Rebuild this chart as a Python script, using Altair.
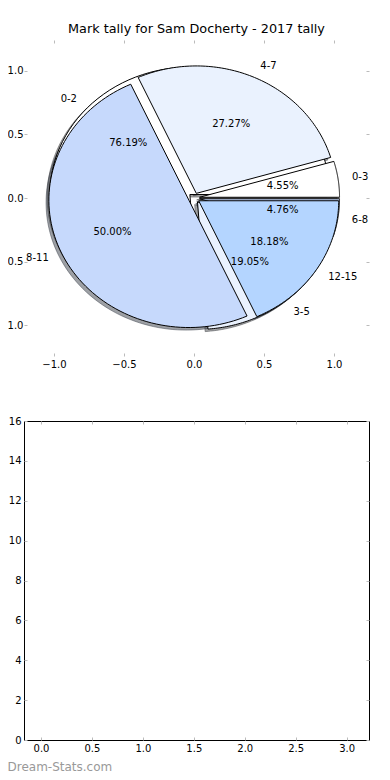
import altair as alt
import pandas as pd

TITLE = "Mark tally for Sam Docherty - 2017 tally"
WATERMARK = "Dream-Stats.com"

# 2017 tally, drawn on top
labels_a = ["0-3", "4-7", "8-11", "12-15"]
counts_a = [1, 6, 11, 4]
# second tally, drawn underneath
labels_b = ["0-2", "3-5", "6-8"]
counts_b = [16, 4, 1]

wedge_colors = ["#ffffff", "#eaf2fe", "#c6d9fc", "#b4d5ff"]

pie_ticks = [-1.0, -0.5, 0.0, 0.5, 1.0]
bar_x_ticks = [0.0, 0.5, 1.0, 1.5, 2.0, 2.5, 3.0]
bar_y_ticks = [0, 2, 4, 6, 8, 10, 12, 14, 16]

EXPLODE = 0.04
SHADOW_OFFSET = -0.02
LABEL_DIST = 1.1
PCT_DIST = 0.6
STEPS = 90
FONT = "DejaVu Sans"
TICK_GREY = "#bbbbbb"


def shadow_of(hexcolor):
    r, g, b = (int(hexcolor[i:i + 2], 16) for i in (1, 3, 5))
    return "#%02x%02x%02x" % (int(0.3 * r), int(0.3 * g), int(0.3 * b))


rows = []
for layer, (pie, labels, counts) in enumerate(
    [("B", labels_b, counts_b), ("A", labels_a, counts_a)]
):
    for i, (lab, cnt) in enumerate(zip(labels, counts)):
        rows.append({
            "pie": pie, "layer": layer, "idx": i, "label": lab, "count": cnt,
            "color": wedge_colors[i], "shade": shadow_of(wedge_colors[i]),
        })
wedges = pd.DataFrame(rows)

xs = alt.Scale(domain=[-1.214, 1.25], nice=False, zero=False)
ys = alt.Scale(domain=[-1.24, 1.24], nice=False, zero=False)


def axis(orient, values, fmt, labels, pad, title=None, **kw):
    return alt.Axis(
        orient=orient, values=values, format=fmt, labels=labels, domain=False,
        grid=False, ticks=True, tickSize=3, tickColor=TICK_GREY, tickWidth=1,
        offset=-3, labelPadding=pad, labelFont=FONT, labelFontSize=10,
        labelColor="black", labelFlush=False, title=title, **kw,
    )


base = alt.Chart(wedges).transform_joinaggregate(
    total="sum(count)", groupby=["pie"]
).transform_window(
    cum="sum(count)", groupby=["pie"], sort=[alt.SortField("idx")], frame=[None, 0]
).transform_calculate(
    a0="2*PI*(datum.cum - datum.count)/datum.total",
    a1="2*PI*datum.cum/datum.total",
    am="(datum.a0 + datum.a1)/2",
    key="datum.pie + '|' + datum.label",
    cx=f"{EXPLODE}*cos(datum.am)",
    cy=f"{EXPLODE}*sin(datum.am)",
)

poly = base.transform_calculate(
    step=f"sequence(-1, {STEPS + 2})"
).transform_flatten(["step"]).transform_calculate(
    on=f"datum.step >= 0 && datum.step <= {STEPS} ? 1 : 0",
    t=f"datum.a0 + (datum.a1 - datum.a0) * clamp(datum.step, 0, {STEPS}) / {STEPS}",
    px="datum.cx + datum.on*cos(datum.t)",
    py="datum.cy + datum.on*sin(datum.t)",
    sx=f"datum.px + ({SHADOW_OFFSET})",
    sy=f"datum.py + ({SHADOW_OFFSET})",
)

shadows = poly.mark_line(strokeWidth=1, fillOpacity=0.5, strokeOpacity=0.5).encode(
    x=alt.X("sx:Q", scale=xs, axis=axis("bottom", pie_ticks, ".1f", True, 3)),
    y=alt.Y("sy:Q", scale=ys, axis=axis("left", pie_ticks, ".1f", True, 1)),
    detail="key:N",
    order="step:Q",
    fill=alt.Fill("shade:N", scale=None),
    stroke=alt.Stroke("shade:N", scale=None),
)

pie_b = poly.transform_filter("datum.layer == 0").mark_line(
    strokeWidth=1, stroke="black", strokeJoin="miter"
).encode(
    x=alt.X("px:Q", scale=xs, axis=axis("top", pie_ticks, ".1f", False, 3)),
    y=alt.Y("py:Q", scale=ys, axis=axis("right", pie_ticks, ".1f", False, 4)),
    detail="key:N",
    order="step:Q",
    fill=alt.Fill("color:N", scale=None),
)

pie_a = poly.transform_filter("datum.layer == 1").mark_line(
    strokeWidth=1, stroke="black", strokeJoin="miter"
).encode(
    x=alt.X("px:Q", scale=xs, axis=None),
    y=alt.Y("py:Q", scale=ys, axis=None),
    detail="key:N",
    order="step:Q",
    fill=alt.Fill("color:N", scale=None),
)

lab = base.transform_calculate(
    lx=f"{EXPLODE + LABEL_DIST}*cos(datum.am)",
    ly=f"{EXPLODE + LABEL_DIST}*sin(datum.am)",
)
text_kw = dict(font=FONT, fontSize=10, color="black", baseline="middle")
lab_right = lab.transform_filter("datum.lx > 0").mark_text(align="left", **text_kw).encode(
    x=alt.X("lx:Q", scale=xs, axis=None), y=alt.Y("ly:Q", scale=ys, axis=None), text="label:N"
)
lab_left = lab.transform_filter("datum.lx <= 0").mark_text(align="right", **text_kw).encode(
    x=alt.X("lx:Q", scale=xs, axis=None), y=alt.Y("ly:Q", scale=ys, axis=None), text="label:N"
)
pct = base.transform_calculate(
    tx=f"datum.cx + {PCT_DIST}*cos(datum.am)",
    ty=f"datum.cy + {PCT_DIST}*sin(datum.am)",
    pct="format(datum.count/datum.total, '.2%')",
).mark_text(align="center", **text_kw).encode(
    x=alt.X("tx:Q", scale=xs, axis=None), y=alt.Y("ty:Q", scale=ys, axis=None), text="pct:N"
)

top = alt.layer(shadows, pie_b, pie_a, lab_right, lab_left, pct).resolve_axis(
    x="independent", y="independent"
).properties(
    width=345, height=316,
    title=alt.TitleParams(TITLE, font=FONT, fontSize=12.8, fontWeight="normal",
                          color="black", offset=4, anchor="middle", frame="group"),
    view=alt.ViewBackground(stroke="transparent"),
)

empty = alt.Data(values=[])
bx = alt.Scale(domain=[-0.167, 3.22], nice=False, zero=False)
by = alt.Scale(domain=[0, 16], nice=False, zero=False)
bar1 = alt.Chart(empty).mark_point().encode(
    x=alt.X("x:Q", scale=bx, axis=axis(
        "bottom", bar_x_ticks, ".1f", True, 3, title=WATERMARK,
        titleFont=FONT, titleFontSize=12, titleFontWeight="normal", titleColor="#999999",
        titleAnchor="start", titleAlign="left", titleBaseline="top", titleX=-17, titleY=24)),
    y=alt.Y("y:Q", scale=by, axis=axis("left", bar_y_ticks, "d", True, 3)),
)
bar2 = alt.Chart(empty).mark_point().encode(
    x=alt.X("x:Q", scale=bx, axis=axis("top", bar_x_ticks, ".1f", False, 3)),
    y=alt.Y("y:Q", scale=by, axis=axis("right", bar_y_ticks, "d", False, 4)),
)
bottom = alt.layer(bar1, bar2).resolve_axis(
    x="independent", y="independent"
).properties(
    width=345, height=319,
    view=alt.ViewBackground(stroke="black", strokeWidth=1),
)

chart = alt.vconcat(top, bottom, spacing=45).properties(
    padding={"left": -10, "top": 14, "right": 0, "bottom": 0}
)

chart.save("out.html", embed_options={"renderer": "svg", "actions": False})
